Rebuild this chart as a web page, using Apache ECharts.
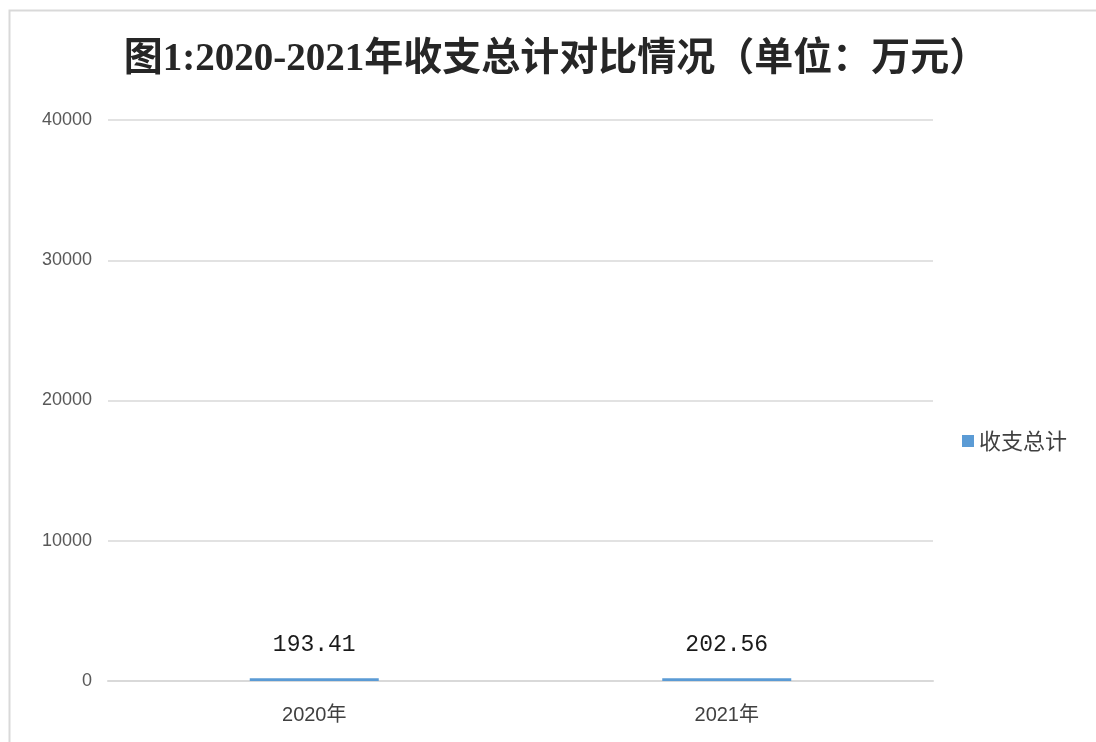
<!DOCTYPE html>
<html><head><meta charset="utf-8">
<script src="https://cdn.jsdelivr.net/npm/echarts@6/dist/echarts.min.js"></script>
<style>html,body{margin:0;padding:0;background:#fff}#c{width:1096px;height:742px}</style>
</head><body><div id="c"></div>
<script>
const categories = ['2020年', '2021年'];
const seriesName = '收支总计';
const values = [193.41, 202.56];
const yTicks = [0, 10000, 20000, 30000, 40000];

const chart = echarts.init(document.getElementById('c'));
chart.setOption({
  animation: false,
  graphic: [{type:'rect', shape:{x:9.5, y:10.5, width:1200, height:900}, style:{fill:'none', stroke:'#d9d9d9', lineWidth:2}, silent:true}],
  title: {
    text: '图1:2020-2021年收支总计对比情况（单位：万元）',
    left: 551, top: 35, textAlign: 'center',
    textStyle: {fontFamily: 'Liberation Serif, Noto Sans CJK SC', fontSize: 39, fontWeight: 'bold', color: '#262626'}
  },
  legend: {
    data: [seriesName], left: 957, top: 425, orient: 'vertical',
    itemWidth: 12, itemHeight: 12, itemGap: 6, icon: 'rect',
    textStyle: {fontSize: 22, color: '#404040', fontFamily: 'Noto Sans CJK SC'}
  },
  grid: {left: 108, right: 163, top: 120, bottom: 61, containLabel: false},
  xAxis: {
    type: 'category', data: categories,
    axisLine: {lineStyle: {color: '#d9d9d9', width: 2}},
    axisTick: {show: false},
    axisLabel: {fontSize: 20, color: '#404040', margin: 24, fontFamily: 'Liberation Sans, Noto Sans CJK SC'}
  },
  yAxis: {
    type: 'value', min: yTicks[0], max: yTicks[yTicks.length-1], interval: 10000,
    axisLine: {show: false}, axisTick: {show: false},
    splitLine: {lineStyle: {color: '#d9d9d9', width: 1.5}},
    axisLabel: {fontSize: 18, color: '#595959', margin: 16, fontFamily: 'Liberation Sans', formatter: v => String(v)}
  },
  series: [{
    name: seriesName, type: 'bar', data: values, barWidth: 129,
    itemStyle: {color: '#5b9bd5'},
    label: {show: true, position: 'top', distance: 22, fontSize: 23, color: '#1a1a1a', fontFamily: 'Liberation Mono'}
  }]
});
</script></body></html>
